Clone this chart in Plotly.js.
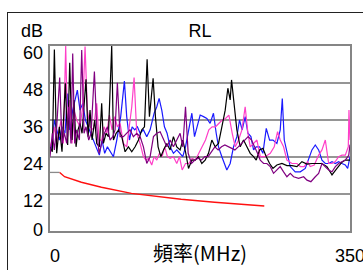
<!DOCTYPE html>
<html>
<head>
<meta charset="utf-8">
<script src="https://cdn.plot.ly/plotly-3.0.1.min.js"></script>
<style>
html,body{margin:0;padding:0;background:#fff;overflow:hidden;width:363px;height:270px;}
#frame{position:absolute;left:7px;top:12px;width:420px;height:320px;border-left:1.5px solid #222;border-top:1.5px solid #222;}
#chart{position:absolute;left:0;top:0;width:363px;height:270px;}
</style>
</head>
<body>
<div id="frame"></div>
<div id="chart"></div>
<script>
// ---- data (frequency in MHz, return loss in dB) ----
const chartTitle = 'RL';
const xTitle = '頻率(MHz)';
const yUnit = 'dB';
const yTicks = [0, 12, 24, 36, 48, 60];
const xTicks = [0, 350];

const freqBlack = [0,2.7,5.1,7.8,10.9,14.0,17.9,20.6,23.0,25.7,28.0,30.4,32.7,35.0,37.4,42.0,44.4,46.7,49.1,52.2,54.5,57.6,60.3,62.3,65.4,68.1,72.0,74.0,77.1,80.2,83.7,87.6,91.5,95.4,99.3,103.2,107.1,110.2,113.3,116.0,120.3,123.0,126.1,129.3,132.4,136.3,140.1,144.0,147.9,151.8,154.9,158.1,161.6,165.5,169.3,173.2,177.1,181.0,184.9,188.8,192.7,196.6,200.5,204.4,207.5,210.2,211.8,214.1,218.0,221.9,225.8,229.7,233.6,237.5,240.6,244.5,248.4,252.3,256.2,260.1,264.7,270.6,276.4,282.3,288.1,293.9,299.8,305.6,311.4,317.3,323.1,329.0,334.8,340.6,344.5,350];
const rlBlack = [27.3,25.7,58.9,25.2,33.8,25.7,47.9,27.9,54.6,29.5,42.5,27.3,32.8,34.9,31.7,49.2,30.6,39.2,29.5,36.0,28.4,27.3,41.4,28.4,31.7,30.6,60,29.5,31.7,32.8,30.6,25.7,27.3,25.7,27.3,29.5,32.8,33.8,55.7,37.1,49.5,37.1,27.3,24.1,26.3,28.4,26.3,30.6,27.3,26.3,29.5,25.7,20.3,23.0,23.0,24.1,21.9,23.0,25.2,29.5,27.3,28.4,33.8,39.2,46.3,42.5,49.0,42.5,32.8,27.3,29.5,27.3,25.2,24.1,23.0,26.3,26.8,24.1,21.9,20.3,21.4,21.9,21.2,21.2,20.9,22.5,21.7,21.9,21.9,21.9,20.9,18.2,20.3,22.3,23.0,23.0];

const freqBlue = [0,2.7,5.1,7.8,10.9,14.0,17.5,20.6,23.0,26.5,29.6,31.9,35.0,38.2,41.3,44.4,47.5,50.6,54.5,57.6,60.7,63.8,67.0,70.1,74.0,77.9,82.5,86.8,89.5,92.7,95.8,98.9,102.0,105.1,109.0,112.9,116.8,121.5,124.6,127.3,130.4,133.5,136.6,140.1,144.0,147.9,151.8,154.9,158.1,162.0,165.5,168.6,171.3,175.2,179.1,183.0,186.8,190.7,193.9,196.6,200.5,206.3,210.2,214.1,218.0,221.1,224.2,227.7,230.9,234.4,237.5,240.6,244.5,248.4,252.3,256.2,260.1,264.7,268.6,271.0,273.3,276.4,280.3,286.1,292.0,297.8,301.7,305.6,309.5,313.4,317.3,321.2,325.1,329.0,332.9,336.7,340.6,344.5,347.3,350];
const rlBlue = [25.2,28.4,36.0,32.8,29.5,33.8,31.7,44.6,32.8,39.2,42.5,45.7,39.2,41.4,36.0,33.8,31.7,29.5,27.3,24.6,29.5,25.2,27.3,25.7,24.1,29.5,37.1,48.6,37.1,29.5,33.8,32.8,33.8,31.7,32.8,30.6,32.8,38.2,40.3,43.0,39.2,33.8,31.7,27.3,25.2,26.3,25.2,24.1,27.3,33.8,38.2,30.6,33.8,37.6,37.1,36.5,34.9,38.2,31.7,27.3,24.1,19.8,21.9,27.3,30.6,36.0,32.8,37.1,31.7,30.6,26.3,27.3,27.3,25.2,33.3,29.5,29.5,28.4,32.8,43.0,29.5,25.2,20.9,19.2,19.2,20.3,23.0,26.3,27.9,26.3,23.0,21.9,21.9,22.5,21.9,22.5,21.9,21.4,20.3,24.1];

const freqPink = [0,2.7,5.1,7.8,10.5,13.2,15.6,18.3,20.6,23.0,25.7,28.0,31.1,35.0,38.2,40.9,43.6,46.7,50.6,54.5,57.2,60.3,63.1,66.2,69.3,72.4,75.5,78.6,81.8,85.6,89.5,93.4,95.4,98.1,101.2,105.1,109.0,112.1,115.2,118.7,121.5,124.6,127.7,130.8,133.9,137.0,140.1,144.0,147.9,151.0,154.2,158.1,162.0,165.8,169.7,173.6,177.5,181.4,185.3,189.2,193.1,197.0,200.9,204.8,208.7,212.6,216.1,220.0,223.9,227.7,230.9,233.6,237.5,241.4,245.3,251.1,257.0,261.6,265.5,268.6,272.5,276.4,282.3,288.1,292.0,296.6,300.5,303.6,308.3,313.4,317.3,321.2,325.1,329.0,332.9,336.7,340.6,344.5,348.0,348.8,350];
const rlPink = [27.3,29.5,33.8,28.4,32.8,36.0,28.4,60,30.6,42.5,28.4,39.2,36.0,33.8,40.3,59.8,39.2,33.8,32.8,41.4,29.5,29.5,33.8,31.7,37.6,32.8,37.1,33.8,34.9,28.4,27.3,37.1,40.3,49.8,31.7,28.4,24.1,23.0,23.6,21.4,24.1,23.0,25.2,24.1,27.3,24.1,23.6,24.1,21.9,24.1,19.8,21.9,21.9,23.6,23.0,25.2,27.3,29.5,32.8,33.8,33.8,34.9,36.0,36.5,37.6,31.7,27.3,29.5,32.8,40.3,31.7,27.3,28.4,29.5,24.1,24.1,25.2,27.3,32.2,29.5,27.3,23.0,21.9,21.9,20.9,20.9,22.5,20.9,21.4,24.6,26.3,29.5,21.9,21.9,22.5,24.1,24.6,24.6,27.3,39.2,29.5];

const freqPurple = [0,2.7,5.1,7.8,11.3,14.0,16.7,19.5,21.8,24.5,26.5,28.8,31.1,34.3,37.0,39.7,42.0,45.2,47.9,51.8,54.5,57.2,60.3,63.5,67.0,70.1,73.2,75.9,78.6,81.8,85.6,89.5,93.4,97.3,101.2,105.1,109.0,112.9,116.8,120.7,124.6,128.5,132.4,136.3,140.1,144.0,147.9,151.8,154.9,158.1,161.2,165.1,169.0,172.9,176.7,180.6,184.5,188.4,192.3,196.2,200.1,204.0,207.9,211.8,215.7,219.6,223.5,227.4,231.2,235.1,239.0,242.1,245.3,249.2,253.0,256.9,260.8,264.7,268.6,272.5,276.4,280.3,284.2,290.0,295.9,299.8,304.4,309.5,313.4,317.3,321.2,325.1,329.0,332.9,336.7,340.6,344.5,348.5,350];
const rlPurple = [24.1,31.7,26.3,33.8,49.8,28.4,31.7,28.4,40.3,28.4,57.6,28.4,32.8,29.5,58.7,31.7,33.8,29.5,31.7,51.7,33.8,25.2,28.4,31.7,33.8,29.5,30.6,32.8,48.1,30.6,30.6,31.7,32.8,30.6,31.7,30.6,27.3,21.9,24.1,30.6,31.7,32.2,29.5,27.3,29.5,27.3,29.5,31.7,27.3,40.3,25.2,21.9,23.0,23.6,23.0,24.1,24.1,25.7,27.3,26.3,27.3,27.9,27.3,26.8,26.3,27.3,28.4,29.5,30.6,29.5,27.3,25.2,23.0,21.9,21.9,20.9,18.7,19.8,20.9,19.2,17.6,18.7,17.6,17.1,17.6,16.5,16.0,17.6,18.7,21.9,20.9,19.8,19.2,20.9,21.9,22.5,23.0,24.5,28.0];

const freqLimitLow = [0, 11.3];
const rlLimitLow = [19.0, 19.0];
const freqLimit = [11.3, 17, 36.6, 60, 95, 125, 153, 192, 220, 250];
const rlLimit = [19.0, 17.6, 15.8, 14.2, 12.2, 11.1, 10.3, 9.3, 8.7, 8.1];

// ---- chart ----
const font = 'Liberation Sans, Arial, sans-serif';
function line(x, y, color, w) {
  return {x: x, y: y, type: 'scatter', mode: 'lines', line: {color: color, width: w || 1.2}, hoverinfo: 'skip', showlegend: false};
}
const traces = [
  line(freqLimitLow, rlLimitLow, '#8a8a8a', 1.3),
  line(freqLimit, rlLimit, '#ff1010', 1.4),
  line(freqBlue, rlBlue, '#1a1aff'),
  line(freqPink, rlPink, '#ff3fc8'),
  line(freqBlack, rlBlack, '#000000'),
  line(freqPurple, rlPurple, '#800080')
];

const annotations = [];
yTicks.forEach(v => {
  annotations.push({xref: 'paper', yref: 'y', x: 0, y: v, text: String(v), showarrow: false,
    xanchor: 'right', yanchor: 'middle', xshift: -5, yshift: v === 0 ? 1.5 : -6.5,
    font: {family: font, size: 18, color: '#000'}});
});
xTicks.forEach((v, i) => {
  annotations.push({xref: 'x', yref: 'paper', x: v, y: 0, text: String(v), showarrow: false,
    xanchor: 'center', yanchor: 'middle', xshift: i === 0 ? 5 : 0, yshift: -25,
    font: {family: font, size: 18, color: '#000'}});
});
annotations.push({xref: 'paper', yref: 'paper', x: 0, y: 1, text: yUnit, showarrow: false,
  xanchor: 'right', yanchor: 'middle', xshift: -5, yshift: 15,
  font: {family: font, size: 18, color: '#000'}});

const layout = {
  width: 363, height: 270,
  margin: {l: 50, r: 13, t: 46, b: 39, pad: 0},
  paper_bgcolor: 'rgba(0,0,0,0)',
  plot_bgcolor: '#ffffff',
  title: {text: chartTitle, x: 0.5, xref: 'paper', y: 1 - 31/270, yref: 'container', yanchor: 'middle',
    font: {family: font, size: 18, color: '#000'}},
  xaxis: {range: [0, 350], tickvals: xTicks, showticklabels: false, showgrid: false, zeroline: false,
    showline: true, mirror: true, linecolor: '#858585', linewidth: 2, ticks: '',
    title: {text: xTitle, standoff: 15, font: {family: 'Noto Sans CJK TC, sans-serif', size: 20, color: '#000'}},
    fixedrange: true},
  yaxis: {range: [0, 60], tickvals: yTicks, showticklabels: false, showgrid: true, gridcolor: '#959595', gridwidth: 1.5,
    zeroline: false, showline: true, mirror: true, linecolor: '#858585', linewidth: 2, ticks: '', fixedrange: true},
  annotations: annotations
};

Plotly.newPlot('chart', traces, layout, {staticPlot: true, displayModeBar: false});
</script>
</body>
</html>
